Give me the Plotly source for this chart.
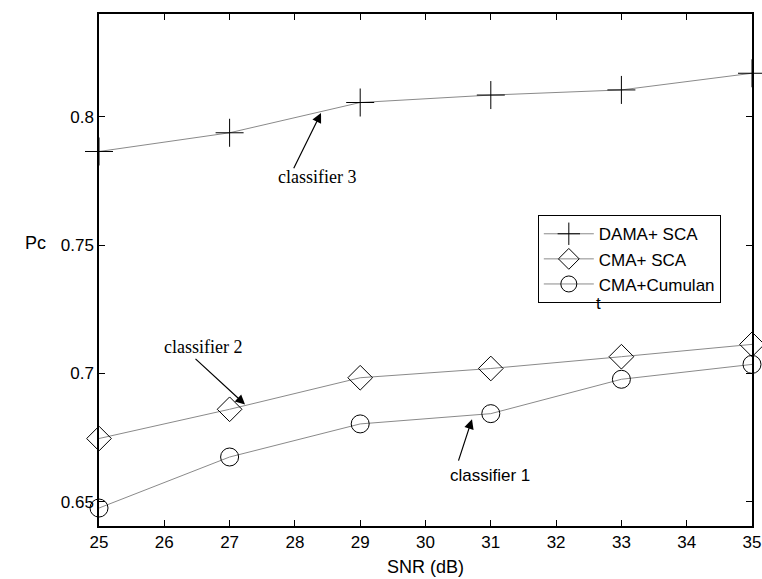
import plotly.graph_objects as go

snr = [25, 27, 29, 31, 33, 35]
dama_sca = [0.7865, 0.7938, 0.8056, 0.8085, 0.8105, 0.8170]
cma_sca = [0.6746, 0.6860, 0.6983, 0.7019, 0.7065, 0.7113]
cma_cum = [0.6475, 0.6674, 0.6803, 0.6843, 0.6977, 0.7035]
series_names = ["DAMA+ SCA", "CMA+ SCA", "CMA+Cumulan"]
x_ticks = list(range(25, 36))
y_ticks = [0.65, 0.7, 0.75, 0.8]
y_tick_labels = ["0.65", "0.7", "0.75", "0.8"]

SANS = "Arial, Liberation Sans, sans-serif"
SERIF = "Times New Roman, Liberation Serif, serif"

fig = go.Figure()
symbols = ["cross-thin-open", "diamond-open", "circle-open"]
sizes = [20, 19, 18]
for name, ys, sym, sz in zip(series_names, [dama_sca, cma_sca, cma_cum], symbols, sizes):
    fig.add_trace(go.Scatter(
        x=snr, y=ys, name=name, mode="lines+markers",
        line=dict(color="#8a8a8a", width=1),
        marker=dict(symbol=sym, size=sz, color="black",
                    line=dict(color="black", width=1)),
        cliponaxis=False,
    ))

axis_common = dict(
    showgrid=False, zeroline=False, showline=True, linecolor="black",
    linewidth=1.5, mirror="ticks", ticks="inside", ticklen=6,
    tickcolor="black", tickfont=dict(family=SANS, size=17, color="black"),
    automargin=False,
)

fig.update_xaxes(range=[25, 35], tickvals=x_ticks,
                 title=dict(text="SNR (dB)", font=dict(family=SANS, size=18, color="black"), standoff=9),
                 **axis_common)
fig.update_yaxes(range=[0.6405, 0.8401], tickvals=y_ticks, ticktext=y_tick_labels,
                 **axis_common)

# arrows (tip x,y; tail ax,ay in data coords)
arrows = [
    (28.40, 0.8015, 27.971, 0.7794),
    (27.236, 0.6879, 26.455, 0.7062),
    (30.712, 0.6821, 30.498, 0.6654),
]
for x, y, ax, ay in arrows:
    fig.add_annotation(x=x, y=y, ax=ax, ay=ay, xref="x", yref="y",
                       axref="x", ayref="y", text="", showarrow=True,
                       arrowhead=2, arrowsize=1.6, arrowwidth=1.2,
                       arrowcolor="black", standoff=0, startstandoff=0)

fig.add_annotation(x=28.338, y=0.7767, xref="x", yref="y", text="classifier 3",
                   showarrow=False, font=dict(family=SERIF, size=18, color="black"))
fig.add_annotation(x=26.593, y=0.7101, xref="x", yref="y", text="classifier 2",
                   showarrow=False, font=dict(family=SERIF, size=18, color="black"))
fig.add_annotation(x=30.988, y=0.6603, xref="x", yref="y", text="classifier 1",
                   showarrow=False, font=dict(family=SANS, size=17, color="black"))
fig.add_annotation(x=32.642, y=0.7272, xref="x", yref="y", text="t",
                   showarrow=False, font=dict(family=SANS, size=17, color="black"))
fig.add_annotation(x=-0.116, y=0.553, xref="paper", yref="paper", text="Pc",
                   showarrow=False, font=dict(family=SANS, size=18, color="black"))

fig.update_layout(
    width=762, height=579, autosize=False,
    margin=dict(l=99, r=10, t=14, b=53, autoexpand=False),
    paper_bgcolor="white", plot_bgcolor="white",
    legend=dict(x=0.672, y=0.607, xanchor="left", yanchor="top",
                bgcolor="white", bordercolor="black", borderwidth=1,
                font=dict(family=SANS, size=17, color="black"),
                tracegroupgap=0, itemwidth=50),
    showlegend=True,
)

fig.write_html("out.html",
               config={"responsive": False, "displayModeBar": False},
               post_script="document.body.style.margin='0px';document.body.style.padding='0px';"
                           "document.body.style.overflow='hidden';"
                           "document.documentElement.style.overflow='hidden';")
